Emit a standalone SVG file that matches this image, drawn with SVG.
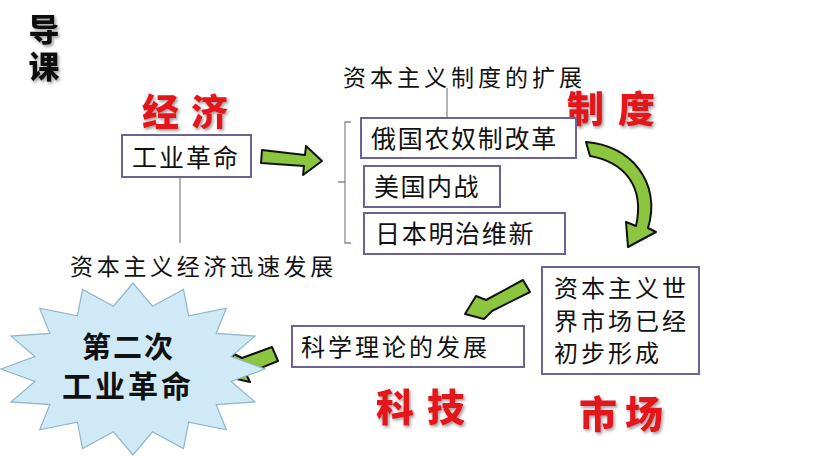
<svg xmlns="http://www.w3.org/2000/svg" width="816" height="459" viewBox="0 0 816 459">
<defs>
<style>
.t{font-family:"Noto Sans CJK SC","Noto Sans",sans-serif;fill:#111;}
.box{fill:#fff;stroke:#6c6394;stroke-width:2;}
.red{font-family:"Noto Sans CJK SC",sans-serif;font-weight:900;fill:#e3141c;filter:url(#sh);}
.arr{fill:#8cc63f;stroke:#111;stroke-width:2;stroke-linejoin:round;}
.ln{stroke:#8a8a8a;stroke-width:1.3;fill:none;}
</style>
<filter id="sh" x="-20%" y="-20%" width="150%" height="150%">
<feDropShadow dx="1.5" dy="2" stdDeviation="1.5" flood-color="#777" flood-opacity="0.7"/>
</filter>
</defs>
<rect width="816" height="459" fill="#fff"/>
<text class="t" x="44" y="14" font-size="31" font-weight="900" letter-spacing="6" writing-mode="vertical-rl" filter="url(#sh)">导课</text>

<text class="red" x="142" y="126" font-size="37" letter-spacing="12">经济</text>
<text class="red" x="567" y="123" font-size="37" letter-spacing="14">制度</text>
<text class="red" x="376" y="421" font-size="38" letter-spacing="13">科技</text>
<text class="red" x="579" y="428" font-size="38" letter-spacing="8">市场</text>

<g id="connectors">
<line class="ln" x1="180" y1="177" x2="180" y2="243"/>
<line class="ln" x1="447" y1="88" x2="447" y2="118"/>
<path class="ln" d="M351 122 L345 122 L345 243 L351 243 M345 182 L338 182"/>
<polygon class="arr" points="262,150 305,155 306,146 322,161 303,175 304,166 261,163"/>
<path class="arr" d="M586 142 C630 145 662 182 648 228 L656 232 L628 247 L626 222 L636 226 C645 186 624 162 590 156 Z"/>
<polygon class="arr" points="523,280 530,292 492,311 484,319 465,314 476,296 486,300"/>
<polygon class="arr" points="272,347 278,361 246,374 250,382 224,376 234,354 242,358"/>
</g>

<g id="n-burst">
<polygon fill="#cfeaf6" stroke="#8fb5c8" stroke-width="1.2" points="265,369 231.1,381.5 255,401.9 216.2,404.6 226.3,429.8 188.6,422.2 183.5,448.5 152.5,431.8 133,455 113.5,431.8 82.5,448.5 77.4,422.2 39.7,429.8 49.8,404.6 11,401.9 34.9,381.5 1,369 34.9,356.5 11,336.1 49.8,333.4 39.7,308.2 77.4,315.8 82.5,289.5 113.5,306.2 133,283 152.5,306.2 183.5,289.5 188.6,315.8 226.3,308.2 216.2,333.4 255,336.1 231.1,356.5"/>
<text class="t" x="82" y="358" font-size="29" font-weight="700" letter-spacing="2">第二次</text>
<text class="t" x="62" y="397" font-size="30" font-weight="700" letter-spacing="3">工业革命</text>
</g>

<g id="n-gy">
<rect class="box" x="122" y="135" width="129" height="42"/>
<text class="t" x="132" y="167" font-size="25" letter-spacing="2">工业革命</text>
</g>

<text class="t" x="343" y="86" font-size="23" letter-spacing="4">资本主义制度的扩展</text>
<text class="t" x="70" y="275" font-size="23" letter-spacing="3.7">资本主义经济迅速发展</text>

<g id="n-russia">
<rect class="box" x="361" y="118" width="215" height="40"/>
<text class="t" x="371" y="148" font-size="25" letter-spacing="1.7">俄国农奴制改革</text>
</g>
<g id="n-usa">
<rect class="box" x="364" y="166" width="136" height="41"/>
<text class="t" x="374" y="196" font-size="25" letter-spacing="1.5">美国内战</text>
</g>
<g id="n-japan">
<rect class="box" x="364" y="213" width="201" height="41"/>
<text class="t" x="375" y="243" font-size="25" letter-spacing="1.7">日本明治维新</text>
</g>
<g id="n-market">
<rect class="box" x="542" y="267" width="157" height="107"/>
<text class="t" x="554" y="297" font-size="24" letter-spacing="3">资本主义世</text>
<text class="t" x="554" y="330" font-size="24" letter-spacing="3">界市场已经</text>
<text class="t" x="554" y="362" font-size="24" letter-spacing="3">初步形成</text>
</g>
<g id="n-science">
<rect class="box" x="292" y="326" width="232" height="41"/>
<text class="t" x="301" y="356" font-size="24" letter-spacing="3">科学理论的发展</text>
</g>
</svg>
